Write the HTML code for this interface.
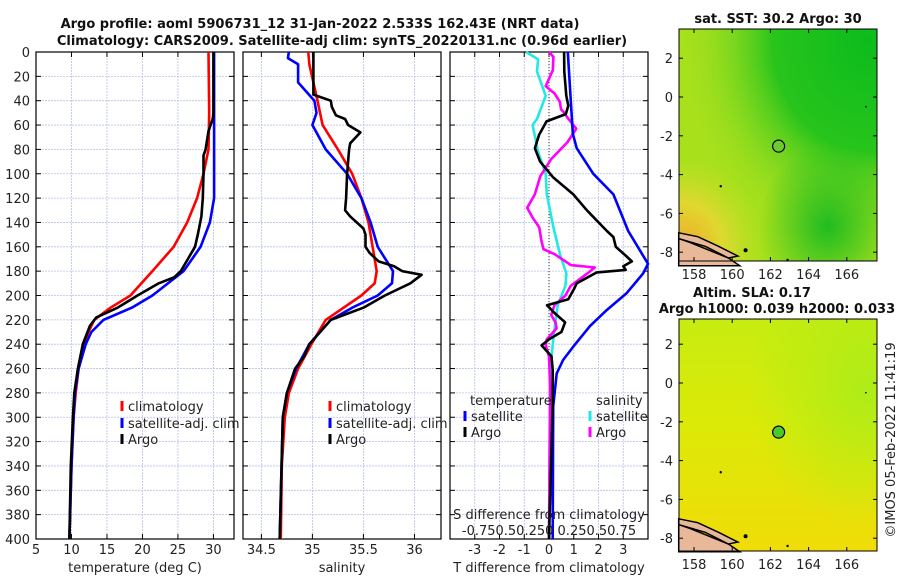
<!DOCTYPE html>
<html><head><meta charset="utf-8"><style>
body{margin:0;background:#fff;}
svg{display:block;font-family:"DejaVu Sans","Liberation Sans",sans-serif;}
text{fill:#222;font-size:13px;}
.t{font-weight:bold;fill:#111;font-size:13px;}
</style></head><body>
<svg id="fig" width="900" height="580" viewBox="0 0 900 580">
<defs>
<radialGradient id="sstA" cx="0.95" cy="0.05" r="0.95"><stop offset="0" stop-color="#0cbc1c"/><stop offset="0.5" stop-color="#28c41c"/><stop offset="1" stop-color="#9fdf22" stop-opacity="0"/></radialGradient>
<radialGradient id="sstB" cx="0.02" cy="0.95" r="0.4"><stop offset="0" stop-color="#f0a828"/><stop offset="0.5" stop-color="#e0d830"/><stop offset="1" stop-color="#c8e028" stop-opacity="0"/></radialGradient>
<radialGradient id="sstC" cx="0.75" cy="0.85" r="0.35"><stop offset="0" stop-color="#20bc20"/><stop offset="1" stop-color="#20bc20" stop-opacity="0"/></radialGradient>
<linearGradient id="slaA" x1="0" y1="0" x2="0" y2="1"><stop offset="0" stop-color="#c6ec10"/><stop offset="0.45" stop-color="#dcea08"/><stop offset="1" stop-color="#f0dc08"/></linearGradient>
<radialGradient id="slaB" cx="0.95" cy="0.3" r="0.6"><stop offset="0" stop-color="#aeec18"/><stop offset="1" stop-color="#aeec18" stop-opacity="0"/></radialGradient>
</defs>
<g id="titles">
<text class="t" x="320" y="28" text-anchor="middle">Argo profile: aoml 5906731_12 31-Jan-2022 2.533S 162.43E (NRT data)</text>
<text class="t" x="342" y="45" text-anchor="middle">Climatology: CARS2009. Satellite-adj clim: synTS_20220131.nc (0.96d earlier)</text>
</g>
<g id="plots"></g>
<g id="maps"></g>
<text x="895" y="440" transform="rotate(-90 895 440)" text-anchor="middle">©IMOS 05-Feb-2022 11:41:19</text>
</svg>
<script>
// ---- data ----
const depthTicks=[0,20,40,60,80,100,120,140,160,180,200,220,240,260,280,300,320,340,360,380,400];
const tempTicks=[5,10,15,20,25,30];
const salTicks=[34.5,35,35.5,36];
const salTickLabels=["34.5","35","35.5","36"];
const diffTicks=[-3,-2,-1,0,1,2,3];
const sDiffLabelText="-0.750.50.250 0.250.50.75";

const tClimDepth=[0,50,80,100,120,140,160,180,200,210,220,230,240,260,280,300,340,400];
const tClimVal=[29.3,29.4,29.3,28.6,27.7,26.3,24.4,21.4,18.3,15.5,13.2,12.4,11.8,11.0,10.6,10.3,10.0,9.7];
const tSatDepth=[0,120,140,160,180,200,210,220,230,240,260,280,300,340,400];
const tSatVal=[30.1,30.1,29.5,28.2,25.8,21.4,18.5,14.5,12.8,12.0,11.0,10.5,10.3,10.0,9.7];
const tArgoDepth=[0,50,55,65,80,85,100,120,135,150,160,170,180,185,190,200,210,218,225,240,260,280,300,340,400];
const tArgoVal=[30.0,30.0,29.9,29.3,28.9,28.6,28.6,28.5,28.3,27.8,27.4,26.4,25.4,24.5,22.3,19.3,16.5,13.5,12.6,11.6,10.9,10.4,10.2,9.9,9.7];

const sClimDepth=[0,10,40,60,80,100,120,140,160,180,190,200,220,240,260,280,300,340,400];
const sClimVal=[34.96,34.97,35.05,35.1,35.25,35.39,35.48,35.55,35.59,35.63,35.61,35.48,35.13,34.99,34.86,34.77,34.73,34.70,34.69];
const sSatDepth=[0,5,10,25,40,50,60,80,100,120,140,160,180,190,200,210,220,240,260,280,300,400];
const sSatVal=[34.77,34.76,34.86,34.86,35.02,35.04,35.0,35.13,35.34,35.48,35.57,35.64,35.79,35.78,35.64,35.39,35.18,34.97,34.84,34.75,34.71,34.68];
const sArgoDepth=[0,35,40,45,52,55,60,66,75,80,100,120,130,135,145,150,160,165,172,176,180,183,190,200,210,220,240,250,260,280,300,400];
const sArgoVal=[35.01,35.01,35.18,35.19,35.23,35.32,35.35,35.47,35.37,35.36,35.34,35.33,35.32,35.37,35.50,35.52,35.52,35.56,35.65,35.80,35.88,36.07,35.96,35.71,35.50,35.18,34.97,34.92,34.83,34.75,34.71,34.68];

const dTSatDepth=[0,67,79,100,117,136,147,174,182,198,212,225,242,253,264,291,400];
const dTSatVal=[0.76,0.96,1.12,1.79,2.6,2.98,3.2,4.0,3.8,3.14,2.33,1.66,0.98,0.57,0.31,0.17,0.15];
const dTArgoDepth=[0,16,36,44,51,57,68,79,90,103,117,130,147,152,160,168,172,176,179,181,190,195,203,208,214,222,230,236,241,250,261,289,400];
const dTArgoVal=[0.61,0.62,0.7,0.78,0.68,-0.1,-0.4,-0.57,-0.36,0.17,0.98,1.53,2.34,2.6,2.7,3.14,3.35,3.0,3.1,1.93,1.12,1.0,0.78,-0.08,0.2,0.65,0.5,0.0,-0.3,0.1,0.15,0.15,0.0];
const dSSatDepth=[0,6,16,36,55,60,82,100,117,144,166,182,192,208,235,261,400];
const dSSatVal=[-0.21,-0.1,-0.11,-0.03,-0.11,-0.15,-0.1,-0.03,-0.02,0.04,0.1,0.16,0.15,0.08,0.04,0.01,0.0];
const dSArgoDepth=[0,4,15,28,34,41,47,50,54,63,74,88,102,117,128,136,144,155,162,166,175,177,182,192,200,208,216,222,227,236,241,250,275,400];
const dSArgoVal=[0,0.04,0.035,-0.03,0.05,0.1,0.11,0.14,0.17,0.25,0.17,0.02,-0.08,-0.13,-0.2,-0.15,-0.09,-0.07,-0.05,0.05,0.2,0.42,0.35,0.2,0.15,0.05,0.02,0.06,0.07,-0.02,-0.03,0.0,0.01,0.0];

const mapLonTicks=[158,160,162,164,166];
const mapLatTicks=[2,0,-2,-4,-6,-8];
const argoLon=162.43, argoLat=-2.533;

// ---- drawing ----
const NS="http://www.w3.org/2000/svg";
function mk(tag,attrs,parent,text){const e=document.createElementNS(NS,tag);for(const k in attrs)e.setAttribute(k,attrs[k]);if(text!==undefined)e.textContent=text;parent.appendChild(e);return e;}
const plots=document.getElementById('plots');
const Y0=52,Y1=539;
const yD=d=>Y0+(d/400)*(Y1-Y0);
const panels=[
 {x0:36,x1:234,vmin:5,vmax:32.9,ticks:tempTicks,labels:tempTicks.map(String),title:"temperature (deg C)",name:"temperature-panel"},
 {x0:243,x1:441,vmin:34.32,vmax:36.26,ticks:salTicks,labels:salTickLabels,title:"salinity",name:"salinity-panel"},
 {x0:450,x1:648,vmin:-4.0,vmax:4.0,ticks:diffTicks,labels:diffTicks.map(String),title:"T difference from climatology",name:"difference-panel"}
];
panels.forEach((p,i)=>{
 const g=mk('g',{},plots);
 
 
 p.x=v=>p.x0+(v-p.vmin)/(p.vmax-p.vmin)*(p.x1-p.x0);
 depthTicks.forEach(d=>{if(d>0&&d<400){mk('line',{x1:p.x0,x2:p.x1,y1:yD(d),y2:yD(d),stroke:'#b8c0e8','stroke-width':0.8,'stroke-dasharray':'2,1'},g);}
  mk('line',{x1:p.x0,x2:p.x0+5,y1:yD(d),y2:yD(d),stroke:'#000'},g);mk('line',{x1:p.x1-5,x2:p.x1,y1:yD(d),y2:yD(d),stroke:'#000'},g);
  if(i===0){const t=mk('text',{x:30,y:yD(d)+5,'text-anchor':'end'},g,String(d));}
 });
 p.ticks.forEach((v,k)=>{const x=p.x(v);
  mk('line',{x1:x,x2:x,y1:Y0,y2:Y1,stroke:'#b8c0e8','stroke-width':0.8,'stroke-dasharray':'2,1'},g);
  mk('line',{x1:x,x2:x,y1:Y1,y2:Y1-5,stroke:'#000'},g);mk('line',{x1:x,x2:x,y1:Y0,y2:Y0+5,stroke:'#000'},g);
  const t=mk('text',{x:x,y:554,'text-anchor':'middle'},g,p.labels[k]);
 });
 mk('rect',{x:p.x0,y:Y0,width:p.x1-p.x0,height:Y1-Y0,fill:'none',stroke:'#000','stroke-width':1.2},g);
 const tt=mk('text',{x:(p.x0+p.x1)/2,y:572,'text-anchor':'middle'},g,p.title);
 
});
function series(p,dep,val,color,name,sx){
 const pts=dep.map((d,k)=>(sx?sx(val[k]):p.x(val[k])).toFixed(1)+','+yD(d).toFixed(1)).join(' ');
 const e=mk('polyline',{points:pts,fill:'none',stroke:color,'stroke-width':2.6,'stroke-linejoin':'round'},plots);
 
 
}
const P=panels;
series(P[0],tClimDepth,tClimVal,'#f00','temp-climatology-line');
series(P[0],tSatDepth,tSatVal,'#00f','temp-satellite-line');
series(P[0],tArgoDepth,tArgoVal,'#000','temp-argo-line');
series(P[1],sClimDepth,sClimVal,'#f00','sal-climatology-line');
series(P[1],sSatDepth,sSatVal,'#00f','sal-satellite-line');
series(P[1],sArgoDepth,sArgoVal,'#000','sal-argo-line');
const zl=mk('line',{x1:P[2].x(0),x2:P[2].x(0),y1:Y0,y2:Y1,stroke:'#333','stroke-dasharray':'1,2'},plots);

const sxS=v=>P[2].x(0)+v*109;
series(P[2],dSSatDepth,dSSatVal,'#22e8e8','sal-diff-satellite-line',sxS);
series(P[2],dSArgoDepth,dSArgoVal,'#f0f','sal-diff-argo-line',sxS);
series(P[2],dTSatDepth,dTSatVal,'#00f','temp-diff-satellite-line');
series(P[2],dTArgoDepth,dTArgoVal,'#000','temp-diff-argo-line');
const sg=mk('g',{},plots);

mk('text',{x:549,y:519,'text-anchor':'middle'},sg,'S difference from climatology');
mk('text',{x:549,y:535,'text-anchor':'middle'},sg,sDiffLabelText);
function legend(x,y,color,label,name){
 const g=mk('g',{},plots);
 
 
 mk('line',{x1:x,x2:x,y1:y-10,y2:y,stroke:color,'stroke-width':3},g);
 mk('text',{x:x+6,y:y},g,label);
}
legend(122,411,'#f00','climatology','legend-climatology');
legend(122,428,'#00f','satellite-adj. clim','legend-satellite-adj');
legend(122,444,'#000','Argo','legend-argo');
legend(330,411,'#f00','climatology','legend-sal-climatology');
legend(330,428,'#00f','satellite-adj. clim','legend-sal-satellite-adj');
legend(330,444,'#000','Argo','legend-sal-argo');
mk('text',{x:470,y:405},plots,'temperature');
mk('text',{x:596,y:405},plots,'salinity');
legend(465,421,'#00f','satellite','legend-temp-diff-satellite');
legend(465,437,'#000','Argo','legend-temp-diff-argo');
legend(590,421,'#22e8e8','satellite','legend-sal-diff-satellite');
legend(590,437,'#f0f','Argo','legend-sal-diff-argo');

// ---- maps ----
const maps=document.getElementById('maps');
function drawMap(top,bottom,lat0y,title,fills,name,circleFill){
 const g=mk('g',{},maps);
 
 
 const x0=679,x1=877;
 const lx=lon=>694+(lon-158)*19.1;
 const ly=lat=>lat0y-lat*19.4;
 fills.forEach(f=>mk('rect',{x:x0,y:top,width:x1-x0,height:bottom-top,fill:f},g));
 const cp=[[157.2,-7.3],[157.8,-7.5],[158.8,-7.9],[159.8,-8.3],[160.4,-8.7],[157.2,-8.7]];
 mk('polygon',{points:cp.map(c=>lx(c[0]).toFixed(1)+','+ly(c[1]).toFixed(1)).join(' '),fill:'#e8b898',stroke:'#000','stroke-width':1.5},g);
 mk('polygon',{points:[[157.2,-7.0],[158.2,-7.2],[159.3,-7.7],[160.3,-8.2],[159.8,-8.3],[158.6,-7.7],[157.2,-7.3]].map(c=>lx(c[0]).toFixed(1)+','+ly(c[1]).toFixed(1)).join(' '),fill:'#e8b898',stroke:'#000','stroke-width':1.5},g);
 mk('circle',{cx:lx(160.7),cy:ly(-7.9),r:2,fill:'#000'},g);
 mk('circle',{cx:lx(159.4),cy:ly(-4.6),r:1.2,fill:'#000'},g);
 mk('circle',{cx:lx(162.9),cy:ly(-8.4),r:1.2,fill:'#000'},g);
 mk('circle',{cx:lx(167),cy:ly(-0.5),r:0.8,fill:'#000'},g);
 mk('rect',{x:x0,y:top,width:x1-x0,height:bottom-top,fill:'none',stroke:'#000'},g);
 const c=mk('circle',{cx:lx(argoLon),cy:ly(argoLat),r:6,fill:circleFill,stroke:'#000','stroke-width':1.2},g);
 
 
 mapLatTicks.forEach(l=>{const y=ly(l);mk('line',{x1:x0,x2:x0+4,y1:y,y2:y,stroke:'#000'},g);mk('line',{x1:x1-4,x2:x1,y1:y,y2:y,stroke:'#000'},g);
  mk('text',{x:673,y:y+5,'text-anchor':'end'},g,String(l));});
 mapLonTicks.forEach(l=>{const x=lx(l);mk('line',{x1:x,x2:x,y1:bottom,y2:bottom-4,stroke:'#000'},g);mk('line',{x1:x,x2:x,y1:top,y2:top+4,stroke:'#000'},g);
  mk('text',{x:x,y:bottom+18,'text-anchor':'middle'},g,String(l));});
 title.forEach(t=>mk('text',{class:'t',x:t[1],y:t[2],'text-anchor':'middle'},g,t[0]));
}
drawMap(29,261,97,[['sat. SST: 30.2 Argo: 30',778,23]],['#a8e01c','url(#sstA)','url(#sstB)','url(#sstC)'],'sst-map','#6ccc28');
drawMap(319,551,383,[['Altim. SLA: 0.17',752,297],['Argo h1000: 0.039 h2000: 0.033',777,313]],['url(#slaA)','url(#slaB)'],'sla-map','#4cc828');
</script>
</body></html>
